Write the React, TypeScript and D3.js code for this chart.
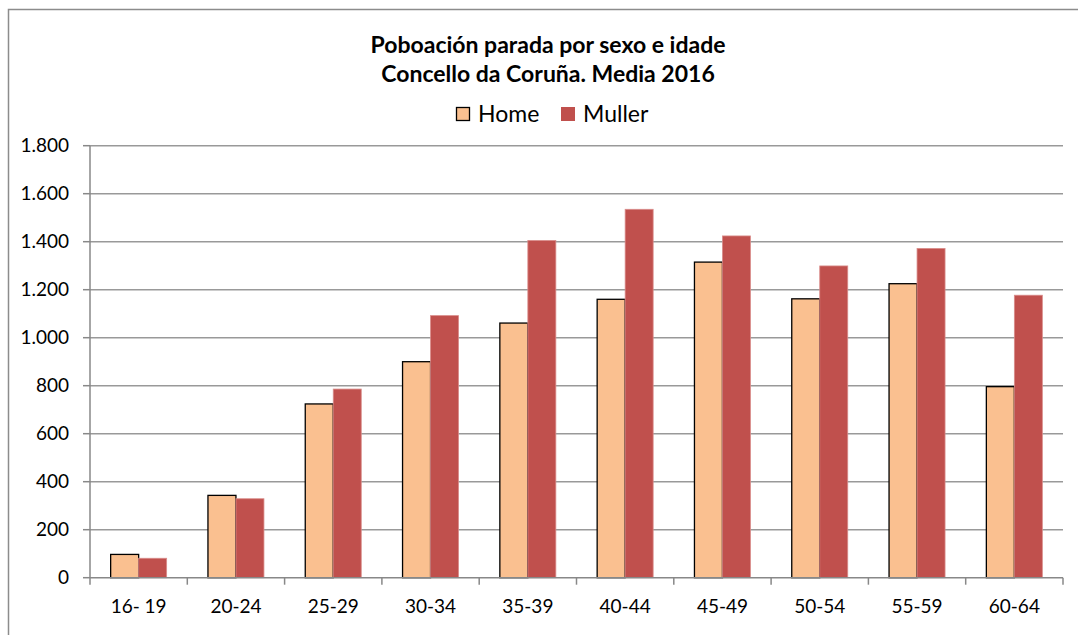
import React from "react";
import * as d3 from "d3";

const categories = ["16- 19", "20-24", "25-29", "30-34", "35-39", "40-44", "45-49", "50-54", "55-59", "60-64"];
const homeValues = [97, 343, 724, 900, 1061, 1160, 1315, 1162, 1225, 796];
const mullerValues = [81, 329, 786, 1092, 1405, 1535, 1424, 1299, 1372, 1177];
const seriesNames = ["Home", "Muller"];
const yTicks = [0, 200, 400, 600, 800, 1000, 1200, 1400, 1600, 1800];
const titleLines = ["Poboación parada por sexo e idade", "Concello da Coruña. Media 2016"];

const W = 1078;
const H = 635;
const left = 90;
const right = 1063;
const top = 145.7;
const bottom = 577.7;
const FONT = "Lato, 'Open Sans', sans-serif";
const colors = ["#FAC090", "#C0504D"];

export default function App() {
  const x = d3.scaleBand<string>().domain(categories).range([left, right]).padding(0);
  const y = d3.scaleLinear().domain([0, 1800]).range([bottom, top]);
  const bw = x.bandwidth();
  const groupW = bw * 0.5755;
  const inner = d3
    .scaleBand<string>()
    .domain(seriesNames)
    .range([(bw - groupW) / 2, (bw + groupW) / 2])
    .padding(0);
  const fmt = (v: number) => d3.format(",")(v).replace(/,/g, ".");
  const series = [homeValues, mullerValues];

  return (
    <svg width={W} height={H} style={{ position: "absolute", left: 0, top: 0, background: "#fff" }}>
      <rect x={0} y={0} width={W} height={H} fill="#fff" />
      {/* outer frame */}
      <path d={`M8.5,${H + 5} L8.5,9.5 L${W + 5},9.5`} fill="none" stroke="#8c8c8c" strokeWidth={1.5} />
      {/* title */}
      {titleLines.map((t, i) => (
        <text
          key={t}
          x={548}
          y={53 + i * 29}
          textAnchor="middle"
          fontFamily={FONT}
          fontWeight="bold"
          fontSize={23}
          fill="#000"
        >
          {t}
        </text>
      ))}
      {/* legend */}
      <rect x={456.5} y={107.5} width={13} height={13} fill={colors[0]} stroke="#000" strokeWidth={1.3} />
      <text x={478} y={122} fontFamily={FONT} fontSize={23} fill="#000">
        {seriesNames[0]}
      </text>
      <rect x={561} y={107} width={14} height={14} fill={colors[1]} />
      <text x={583} y={122} fontFamily={FONT} fontSize={23} fill="#000">
        {seriesNames[1]}
      </text>
      {/* gridlines */}
      {yTicks.map((t) => (
        <g key={t}>
          {t > 0 && <line x1={left} x2={right} y1={y(t)} y2={y(t)} stroke="#999" strokeWidth={1.5} />}
          <line x1={left - 7} x2={left} y1={y(t)} y2={y(t)} stroke="#888" strokeWidth={1.5} />
          <text
            x={69}
            y={y(t) + 6.5}
            textAnchor="end"
            fontFamily={FONT}
            fontSize={19}
            fill="#000"
          >
            {fmt(t)}
          </text>
        </g>
      ))}
      {/* bars */}
      {categories.map((c, ci) => (
        <g key={c} transform={`translate(${x(c)},0)`}>
          {seriesNames.map((s, si) => {
            const v = series[si][ci];
            return (
              <rect
                key={s}
                x={inner(s)}
                y={y(v)}
                width={inner.bandwidth()}
                height={bottom - y(v)}
                fill={colors[si]}
                stroke={si === 0 ? "#000" : "#d98c8a"}
                strokeWidth={si === 0 ? 1.3 : 0.8}
              />
            );
          })}
        </g>
      ))}
      {/* axes */}
      <line x1={left} x2={left} y1={top} y2={bottom} stroke="#888" strokeWidth={1.5} />
      <line x1={left} x2={right} y1={bottom} y2={bottom} stroke="#888" strokeWidth={1.5} />
      {categories.map((c) => (
        <line key={c} x1={x(c)!} x2={x(c)!} y1={bottom} y2={bottom + 7} stroke="#888" strokeWidth={1.5} />
      ))}
      <line x1={right} x2={right} y1={bottom} y2={bottom + 7} stroke="#888" strokeWidth={1.5} />
      {categories.map((c) => (
        <text
          key={c}
          x={x(c)! + bw / 2}
          y={613}
          textAnchor="middle"
          fontFamily={FONT}
          fontSize={19}
          fill="#000"
        >
          {c}
        </text>
      ))}
    </svg>
  );
}
